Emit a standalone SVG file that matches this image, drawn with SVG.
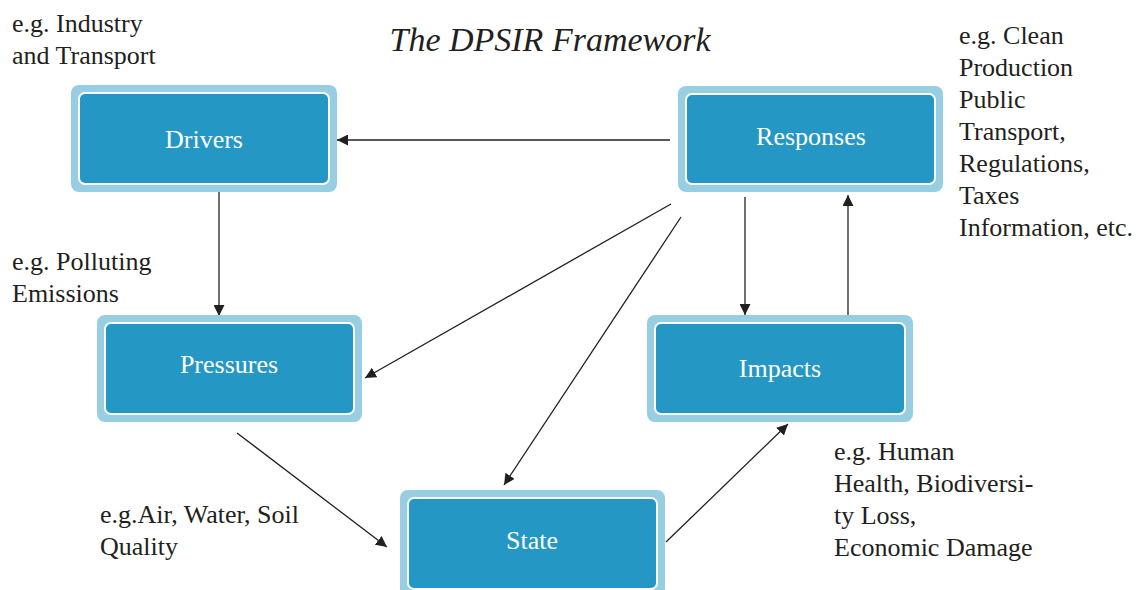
<svg xmlns="http://www.w3.org/2000/svg" width="1137" height="590" viewBox="0 0 1137 590">
  <style>
    .frame { fill: #98cee2; }
    .core { fill: #2497c4; stroke: #ffffff; stroke-width: 2; }
    .label { font-family: "Liberation Serif", "Times New Roman", serif; font-size: 26px; fill: #ffffff; text-anchor: middle; }
    .note { font-family: "Liberation Serif", "Times New Roman", serif; font-size: 26px; fill: #231f20; }
    .title { font-family: "Liberation Serif", "Times New Roman", serif; font-size: 34px; font-style: italic; fill: #231f20; text-anchor: middle; }
    .link { stroke: #231f20; stroke-width: 1.3; fill: none; marker-end: url(#head); }
  </style>
  <defs>
    <marker id="head" viewBox="0 0 10 10" refX="10" refY="5" markerWidth="11" markerHeight="11" markerUnits="userSpaceOnUse" orient="auto">
      <path d="M0,0 L10,5 L0,10 Z" fill="#231f20"/>
    </marker>
  </defs>

  <rect width="1137" height="590" fill="#ffffff"/>

  <text class="title" x="550" y="51">The DPSIR Framework</text>

  <!-- connectors -->
  <g id="connectors">
    <line class="link" x1="670" y1="140" x2="337" y2="140"/>
    <line class="link" x1="219" y1="192" x2="219" y2="316"/>
    <line class="link" x1="671" y1="204" x2="365" y2="378"/>
    <line class="link" x1="681" y1="217" x2="504" y2="485"/>
    <line class="link" x1="237" y1="433" x2="387" y2="547"/>
    <line class="link" x1="666" y1="542" x2="788" y2="424"/>
    <line class="link" x1="745" y1="197" x2="745" y2="315"/>
    <line class="link" x1="848" y1="316" x2="848" y2="195"/>
  </g>

  <!-- nodes -->
  <g id="drivers">
    <rect class="frame" x="71" y="85" width="266" height="107" rx="8"/>
    <rect class="core" x="79" y="93" width="250" height="91" rx="6"/>
    <text class="label" x="204" y="148">Drivers</text>
  </g>
  <g id="responses">
    <rect class="frame" x="678" y="86" width="265" height="106" rx="8"/>
    <rect class="core" x="686" y="94" width="249" height="90" rx="6"/>
    <text class="label" x="811" y="145">Responses</text>
  </g>
  <g id="pressures">
    <rect class="frame" x="97" y="315" width="265" height="107" rx="8"/>
    <rect class="core" x="105" y="323" width="249" height="91" rx="6"/>
    <text class="label" x="229" y="373">Pressures</text>
  </g>
  <g id="impacts">
    <rect class="frame" x="647" y="315" width="266" height="107" rx="8"/>
    <rect class="core" x="655" y="323" width="250" height="91" rx="6"/>
    <text class="label" x="780" y="377">Impacts</text>
  </g>
  <g id="state">
    <rect class="frame" x="400" y="490" width="265" height="107" rx="8"/>
    <rect class="core" x="408" y="498" width="249" height="91" rx="6"/>
    <text class="label" x="532" y="549">State</text>
  </g>

  <!-- example notes -->
  <g id="notes">
    <text class="note" x="12" y="32">e.g. Industry</text>
    <text class="note" x="12" y="64">and Transport</text>

    <text class="note" x="12" y="270">e.g. Polluting</text>
    <text class="note" x="12" y="302">Emissions</text>

    <text class="note" x="100" y="523">e.g.Air, Water, Soil</text>
    <text class="note" x="100" y="555">Quality</text>

    <text class="note" x="834" y="460">e.g. Human</text>
    <text class="note" x="834" y="492">Health, Biodiversi-</text>
    <text class="note" x="834" y="524">ty Loss,</text>
    <text class="note" x="834" y="556">Economic Damage</text>

    <text class="note" x="959" y="44">e.g. Clean</text>
    <text class="note" x="959" y="76">Production</text>
    <text class="note" x="959" y="108">Public</text>
    <text class="note" x="959" y="140">Transport,</text>
    <text class="note" x="959" y="172">Regulations,</text>
    <text class="note" x="959" y="204">Taxes</text>
    <text class="note" x="959" y="236">Information, etc.</text>
  </g>
</svg>
